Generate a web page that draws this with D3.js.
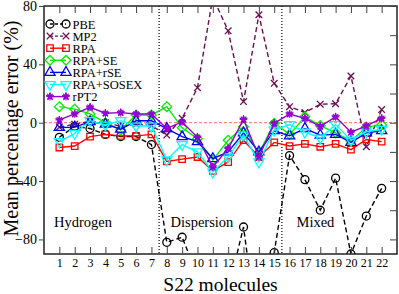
<!DOCTYPE html>
<html>
<head>
<meta charset="utf-8">
<script src="https://cdn.jsdelivr.net/npm/d3@7"></script>
<style>
  body { margin: 0; background: #fff; }
  text { font-family: "Liberation Serif", "Times New Roman", serif; }
</style>
</head>
<body>
<div id="chart"></div>
<script>
// S22 molecules 1..22
var molecules = d3.range(1, 23);
var yTicks = [80, 40, 0, -40, -80];

var pbe    = [-10, -2.5, -4, -8, -9.5, -9.5, -15, -82, -78.5, -105, -130, -115, -71.5, -150, -89, -22.5, -39, -60, -38, -90, -64, -45];
var mp2    = [-3, -1, 1, 0, -2.5, -1, -2, -8.5, 3, 24, 86, 63, 14.5, 74, 27, 11, 7, 12.7, 13, 32, -16.5, 9];
var rpa    = [-17, -16, -9.5, -8, -9, -9, -8, -26.5, -25, -23.5, -33, -27, -12, -23.5, -13.5, -16, -14.5, -16.5, -14.5, -18.5, -11.5, -13];
var rpaSE  = [11, 9.3, 6, 0, -5, 5.3, 5.3, 11, -3.5, -11, -25.7, -12, -2.8, -21, -0.4, -8, 4, -2, -7, -12.5, -3, -1.5];
var rpaRSE = [-3.3, -3, 0.7, -1, -4.5, 1.3, 1.3, -4, -9.6, -13, -24.6, -20, -7, -20, -5.5, -9, -4, -8.5, -8, -13.5, -7, -5.5];
var sosex  = [-13, -7.3, 1.4, -1.6, 1.4, -2.3, -2.3, -25.5, -15, -20, -33.8, -23.4, -8.5, -26.9, -5, -1.3, -6.5, -10.5, -1.3, -12, -6.2, -4.5];
var rpt2   = [1.9, 6, 10.6, 6.5, 6.9, 6, 6, -3.9, 0.5, -10, -30.3, -17.7, 2.3, -23.4, -0.4, 6, 3, -2.5, 4, -6.5, -2.2, 3];

var series = [
  { name: "PBE", values: pbe, color: "#000000", dash: "5,3", sym: "circle" },
  { name: "MP2", values: mp2, color: "#6b0f4f", dash: "5,3", sym: "cross" },
  { name: "RPA", values: rpa, color: "#ff0000", dash: null, sym: "square" },
  { name: "RPA+SE", values: rpaSE, color: "#00ee00", dash: null, sym: "diamond" },
  { name: "RPA+rSE", values: rpaRSE, color: "#0000ff", dash: null, sym: "up" },
  { name: "RPA+SOSEX", values: sosex, color: "#00ffff", dash: null, sym: "down" },
  { name: "rPT2", values: rpt2, color: "#9400d3", dash: null, sym: "star" }
];

var width = 399, height = 294;
var mLeft = 44, mRight = 397, mTop = 6, mBottom = 254;

var svg = d3.select("#chart").append("svg")
    .attr("width", width)
    .attr("height", height);

var x = d3.scaleLinear().domain([0, 23]).range([mLeft, mRight]);
var y = d3.scaleLinear().domain([-90, 80]).range([mBottom, mTop]);

svg.append("clipPath").attr("id", "clip")
  .append("rect")
    .attr("x", mLeft).attr("y", mTop)
    .attr("width", mRight - mLeft).attr("height", mBottom - mTop);

var plot = svg.append("g").attr("clip-path", "url(#clip)");

// zero reference line
plot.append("line")
    .attr("x1", mLeft).attr("x2", mRight)
    .attr("y1", y(0)).attr("y2", y(0))
    .attr("stroke", "#ff6666")
    .attr("stroke-width", 1)
    .attr("stroke-dasharray", "3,2");

// group separators
[7.5, 15.5].forEach(function(v) {
  plot.append("line")
      .attr("x1", x(v)).attr("x2", x(v))
      .attr("y1", mTop).attr("y2", mBottom)
      .attr("stroke", "#000")
      .attr("stroke-width", 1.2)
      .attr("stroke-dasharray", "1,2");
});

function symbolPath(sym) {
  if (sym == "circle") return d3.symbol(d3.symbolCircle, 50)();
  if (sym == "cross") return d3.symbol(d3.symbolTimes, 30)();
  if (sym == "square") return d3.symbol(d3.symbolSquare, 42)();
  if (sym == "diamond") return d3.symbol(d3.symbolDiamond2, 60)();
  if (sym == "up") return d3.symbol(d3.symbolTriangle, 45)();
  if (sym == "down") return d3.symbol(d3.symbolTriangle, 45)();
  return d3.symbol(d3.symbolStar, 18)();
}

function drawSymbol(g, s, px, py) {
  g.append("path")
      .attr("d", symbolPath(s.sym))
      .attr("transform", "translate(" + px + "," + py + ")" + (s.sym == "down" ? " rotate(180)" : ""))
      .attr("stroke", s.color)
      .attr("stroke-width", s.sym == "star" ? 0.8 : 1.3)
      .attr("fill", s.sym == "star" ? s.color : "none");
  if (s.sym == "star") {
    // asterisk spokes
    [0, 45, 90, 135].forEach(function(a) {
      g.append("line")
          .attr("x1", -3.8).attr("x2", 3.8).attr("y1", 0).attr("y2", 0)
          .attr("transform", "translate(" + px + "," + py + ") rotate(" + a + ")")
          .attr("stroke", s.color)
          .attr("stroke-width", 1.1);
    });
  }
}

var line = d3.line()
    .x(function(d, i) { return x(molecules[i]); })
    .y(function(d) { return y(d); });

series.forEach(function(s) {
  plot.append("path")
      .datum(s.values)
      .attr("d", line)
      .attr("fill", "none")
      .attr("stroke", s.color)
      .attr("stroke-width", 1.4)
      .attr("stroke-dasharray", s.dash);
  var g = plot.append("g");
  s.values.forEach(function(v, i) {
    drawSymbol(g, s, x(molecules[i]), y(v));
  });
});

// frame
svg.append("rect")
    .attr("x", mLeft).attr("y", mTop)
    .attr("width", mRight - mLeft).attr("height", mBottom - mTop)
    .attr("fill", "none")
    .attr("stroke", "#222")
    .attr("stroke-width", 1.5);

// bottom axis, ticks inward
var xAxis = d3.axisBottom(x).tickValues(molecules).tickSizeInner(-7).tickSizeOuter(0).tickPadding(4);
var gx = svg.append("g")
    .attr("transform", "translate(0," + mBottom + ")")
    .call(xAxis)
    .attr("class", "xaxis");
gx.select(".domain").remove();
gx.selectAll("line").attr("stroke", "#444");
gx.selectAll("text").attr("font-size", "12px").attr("fill", "#000");

// top ticks
var gxt = svg.append("g")
    .attr("transform", "translate(0," + mTop + ")")
    .call(d3.axisTop(x).tickValues(molecules).tickSizeInner(-7).tickSizeOuter(0).tickFormat(""));
gxt.select(".domain").remove();
gxt.selectAll("line").attr("stroke", "#444");

// left axis, ticks outward
var gy = svg.append("g")
    .attr("transform", "translate(" + mLeft + ",0)")
    .call(d3.axisLeft(y).tickValues(yTicks).tickSizeInner(5).tickSizeOuter(0).tickPadding(2))
    .attr("class", "yaxis");
gy.select(".domain").remove();
gy.selectAll("line").attr("stroke", "#444");
gy.selectAll("text").attr("font-size", "14px").attr("fill", "#000");

// right ticks, inward every 20
var gyr = svg.append("g")
    .attr("transform", "translate(" + mRight + ",0)")
    .call(d3.axisRight(y).tickValues([80, 60, 40, 20, 0, -20, -40, -60, -80]).tickSizeInner(-7).tickSizeOuter(0).tickFormat(""));
gyr.select(".domain").remove();
gyr.selectAll("line").attr("stroke", "#444");

// axis titles
svg.append("text")
    .attr("x", 220.5)
    .attr("y", 291)
    .attr("text-anchor", "middle")
    .attr("font-size", "19.5px")
    .text("S22 molecules");

svg.append("text")
    .attr("transform", "translate(17.5,128.5) rotate(-90)")
    .attr("text-anchor", "middle")
    .attr("font-size", "20px")
    .text("Mean percentage error (%)");

// group labels
var groups = [["Hydrogen", 54], ["Dispersion", 170.5], ["Mixed", 296.5]];
groups.forEach(function(g) {
  svg.append("text")
      .attr("x", g[1]).attr("y", 227)
      .attr("font-size", "14.5px")
      .text(g[0]);
});

// legend
var leg = svg.append("g");
series.forEach(function(s, i) {
  var cy = 24 + i * 12.1;
  leg.append("line")
      .attr("x1", 50).attr("x2", 66)
      .attr("y1", cy).attr("y2", cy)
      .attr("stroke", s.color)
      .attr("stroke-width", 1.4)
      .attr("stroke-dasharray", s.dash ? "3,2" : null);
  drawSymbol(leg, s, 50, cy);
  drawSymbol(leg, s, 66, cy);
  leg.append("text")
      .attr("x", 72.5).attr("y", cy + 4.5)
      .attr("font-size", "12.5px")
      .text(s.name);
});
</script>
</body>
</html>
